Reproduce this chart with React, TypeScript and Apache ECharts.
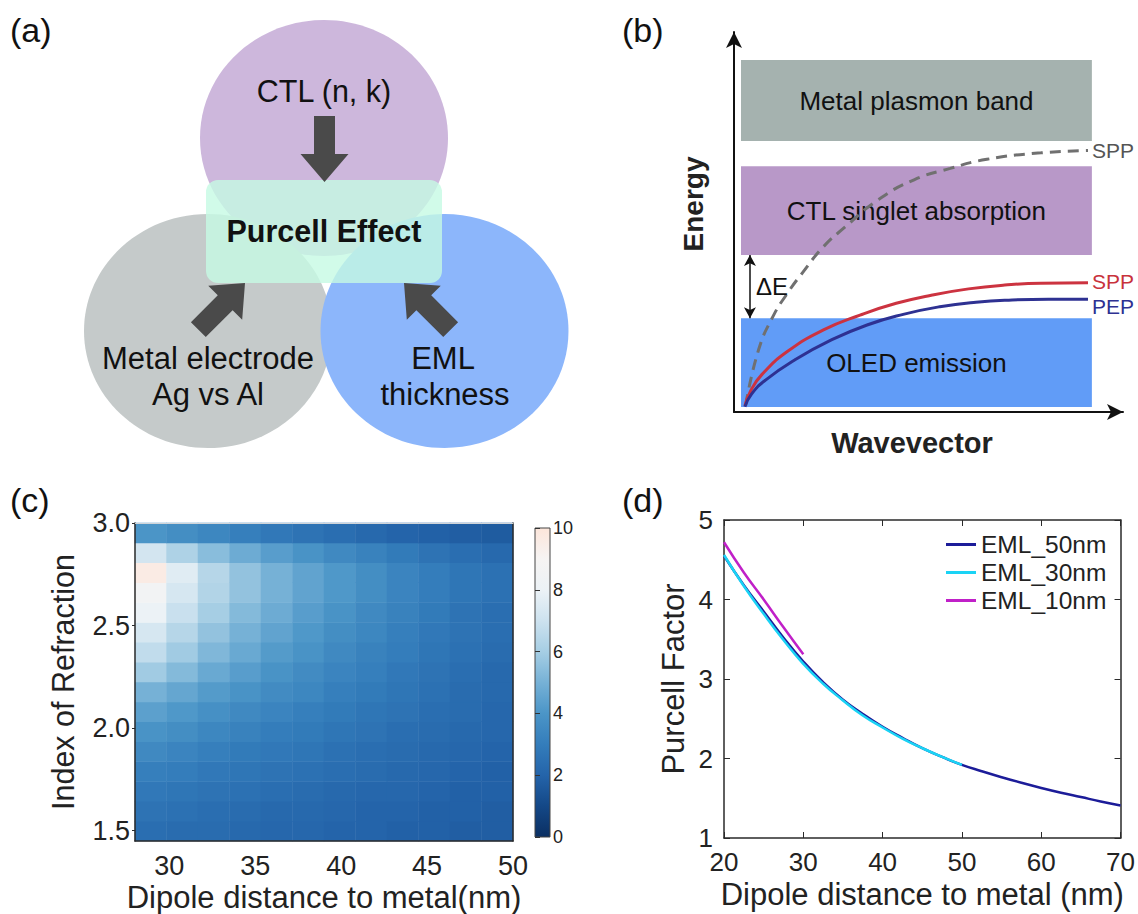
import React, { useEffect, useRef } from 'react';
import * as echarts from 'echarts';

// ---------- Panel (b): band diagram ----------
const bandNames = ['Metal plasmon band', 'CTL singlet absorption', 'OLED emission'];
const bandX = [1.8, 92.0];
const bandLow = [71.3, 41.3, 1.3];
const bandHigh = [92.6, 64.7, 24.7];
const bandColors = ['#a5b2af', '#b898c8', '#619cf7'];
const sppDashed = [[3.0, 1.8], [6.3, 16.3], [10.0, 25.1], [13.7, 31.2], [17.5, 36.5], [23.0, 43.5], [28.7, 48.8], [37.0, 55.8], [46.3, 61.1], [55.6, 64.1], [65.0, 66.5], [78.9, 68.2], [91.0, 68.8]];
const sppRed = [[2.8, 1.6], [4.3, 5.6], [7.2, 9.9], [13.7, 15.9], [23.0, 21.6], [32.4, 25.5], [41.7, 28.6], [51.0, 30.8], [60.3, 32.4], [69.6, 33.4], [78.9, 33.9], [91.0, 34.0]];
const pepBlue = [[2.8, 1.4], [4.5, 4.7], [8.1, 8.4], [15.6, 13.7], [24.9, 18.9], [34.2, 22.9], [43.5, 25.7], [52.9, 27.7], [62.2, 28.9], [71.5, 29.5], [80.8, 29.7], [91.0, 29.7]];
const deltaEX = 4.1;

// ---------- Panel (c): heatmap ----------
const heatX = ['28', '30', '32', '34', '36', '38', '40', '42', '44', '46', '48', '50'];
const heatY = ['1.5', '1.6', '1.7', '1.8', '1.9', '2.0', '2.1', '2.2', '2.3', '2.4', '2.5', '2.6', '2.7', '2.8', '2.9', '3.0'];
const heatValues = [
  [2.4, 2.3, 2.3, 2.2, 2.1, 2.1, 2.0, 2.0, 1.9, 1.9, 1.8, 1.8],
  [2.6, 2.5, 2.4, 2.3, 2.2, 2.2, 2.1, 2.0, 2.0, 1.9, 1.9, 1.8],
  [2.8, 2.7, 2.6, 2.5, 2.4, 2.3, 2.2, 2.1, 2.1, 2.0, 1.9, 1.9],
  [3.1, 3.0, 2.8, 2.7, 2.6, 2.5, 2.4, 2.3, 2.2, 2.1, 2.0, 1.9],
  [3.5, 3.3, 3.1, 2.9, 2.8, 2.7, 2.5, 2.4, 2.3, 2.2, 2.1, 2.0],
  [3.9, 3.7, 3.4, 3.2, 3.0, 2.9, 2.7, 2.6, 2.4, 2.3, 2.2, 2.1],
  [4.4, 4.1, 3.8, 3.5, 3.3, 3.1, 2.9, 2.7, 2.6, 2.4, 2.3, 2.1],
  [5.0, 4.6, 4.2, 3.9, 3.6, 3.4, 3.1, 2.9, 2.7, 2.5, 2.3, 2.2],
  [5.9, 5.3, 4.7, 4.3, 3.9, 3.6, 3.3, 3.1, 2.8, 2.6, 2.4, 2.2],
  [6.7, 5.9, 5.2, 4.7, 4.2, 3.9, 3.5, 3.2, 3.0, 2.7, 2.5, 2.3],
  [7.3, 6.4, 5.6, 5.0, 4.5, 4.1, 3.7, 3.4, 3.1, 2.8, 2.6, 2.4],
  [8.0, 6.9, 6.0, 5.3, 4.8, 4.3, 3.9, 3.5, 3.2, 2.9, 2.6, 2.4],
  [8.6, 7.3, 6.3, 5.6, 5.0, 4.5, 4.1, 3.7, 3.3, 3.0, 2.7, 2.5],
  [9.6, 7.6, 6.4, 5.6, 5.0, 4.5, 4.1, 3.7, 3.3, 3.0, 2.7, 2.5],
  [7.2, 6.2, 5.4, 4.8, 4.3, 3.9, 3.5, 3.2, 2.9, 2.6, 2.4, 2.2],
  [4.0, 3.7, 3.4, 3.1, 2.8, 2.6, 2.4, 2.2, 2.0, 1.9, 1.8, 1.7],
];
const heatXTicks = [30, 35, 40, 45, 50];
const heatYTicks = [1.5, 2.0, 2.5, 3.0];
const heatColors = ['#0b2f62', '#144887', '#2464aa', '#347dbb', '#4b95c7', '#76b1d6', '#a6cee4', '#cde2ef', '#ecf2f6', '#f6f4f3', '#fce5da'];

// ---------- Panel (d): Purcell factor ----------
const dNames = ['EML_50nm', 'EML_30nm', 'EML_10nm'];
const dColors = ['#1c1c99', '#1ad3f5', '#c020c8'];
const dX50 = [20, 22.5, 25, 27.5, 30, 32.5, 35, 37.5, 40, 42.5, 45, 47.5, 50, 52.5, 55, 57.5, 60, 62.5, 65, 67.5, 70];
const dY50 = [4.55, 4.18, 3.85, 3.52, 3.22, 2.96, 2.74, 2.56, 2.40, 2.26, 2.13, 2.02, 1.92, 1.84, 1.765, 1.695, 1.63, 1.57, 1.515, 1.46, 1.41];
const dX30 = [20, 22.5, 25, 27.5, 30, 32.5, 35, 37.5, 40, 42.5, 45, 47.5, 50];
const dY30 = [4.56, 4.17, 3.82, 3.49, 3.19, 2.94, 2.73, 2.54, 2.39, 2.25, 2.13, 2.02, 1.92];
const dX10 = [20, 22.5, 25, 27.5, 30];
const dY10 = [4.72, 4.34, 4.00, 3.65, 3.31];

const FONT = '"Liberation Sans", Arial, Helvetica, sans-serif';

function arrowPoints(len: number) {
  return [[0, 0], [24, 28], [10.5, 28], [10.5, len], [-10.5, len], [-10.5, 28], [-24, 28]];
}

export default function App() {
  const ref = useRef<HTMLDivElement>(null);
  useEffect(() => {
    document.body.style.margin = '0';
    if (!ref.current) return;
    const chart = echarts.init(ref.current, null, { renderer: 'svg' });

    const heatData: number[][] = [];
    heatValues.forEach((row, yi) => row.forEach((v, xi) => heatData.push([xi, yi, v])));
    const zip = (xs: number[], ys: number[]) => xs.map((x, i) => [x, ys[i]]);

    const txt = (text: string, x: number, y: number, size: number, extra: any = {}) => ({
      type: 'text', x, y, z: 20, ...extra,
      style: { text, fontSize: size, fontFamily: FONT, fill: '#111', align: 'center', verticalAlign: 'middle', ...(extra.style || {}) },
    });

    const hidden = { axisLine: { show: false }, axisTick: { show: false }, axisLabel: { show: false }, splitLine: { show: false } };
    const arrowAxis = {
      axisLine: { show: true, symbol: ['none', 'arrow'], symbolSize: [12, 16], lineStyle: { color: '#111', width: 2 } },
      axisTick: { show: false }, axisLabel: { show: false }, splitLine: { show: false },
    };
    const darkLine = { show: true, lineStyle: { color: '#2a2a2a', width: 1.5 } };

    const option: any = {
      animation: false,
      backgroundColor: '#ffffff',
      textStyle: { fontFamily: FONT },
      grid: [
        { left: 734, top: 32, width: 389, height: 380 },
        { left: 135, top: 523, width: 378, height: 318 },
        { left: 135, top: 523, width: 378, height: 318 },
        { left: 535, top: 528, width: 15, height: 309 },
        { left: 724, top: 520, width: 398, height: 318 },
      ],
      xAxis: [
        { gridIndex: 0, type: 'value', min: 0, max: 100, ...arrowAxis },
        { gridIndex: 1, type: 'category', data: heatX, ...hidden },
        {
          gridIndex: 2, type: 'value', min: 28, max: 50, position: 'bottom', z: 10,
          axisLine: darkLine, axisTick: { show: false },
          axisLabel: { customValues: heatXTicks, fontSize: 27, color: '#222', margin: 11 },
          splitLine: { show: false },
          name: 'Dipole distance to metal(nm)', nameLocation: 'middle', nameGap: 41,
          nameTextStyle: { fontSize: 31, color: '#222' },
        },
        { gridIndex: 2, type: 'value', min: 28, max: 50, position: 'top', z: 10, ...hidden, axisLine: { show: true, lineStyle: { color: '#d0d4d8', width: 1 } } },
        { gridIndex: 3, type: 'value', min: 0, max: 1, ...hidden },
        {
          gridIndex: 4, type: 'value', min: 20, max: 70, interval: 10, position: 'bottom',
          axisLine: darkLine, axisTick: { show: true, inside: true, length: 6, lineStyle: { color: '#2a2a2a' } },
          axisLabel: { fontSize: 26, color: '#222', margin: 11 }, splitLine: { show: false },
          name: 'Dipole distance to metal (nm)', nameLocation: 'middle', nameGap: 41,
          nameTextStyle: { fontSize: 31, color: '#222' },
        },
        {
          gridIndex: 4, type: 'value', min: 20, max: 70, interval: 10, position: 'top',
          axisLine: darkLine, axisTick: { show: true, inside: true, length: 6, lineStyle: { color: '#2a2a2a' } },
          axisLabel: { show: false }, splitLine: { show: false },
        },
      ],
      yAxis: [
        { gridIndex: 0, type: 'value', min: 0, max: 100, ...arrowAxis },
        { gridIndex: 1, type: 'category', data: heatY, ...hidden },
        {
          gridIndex: 2, type: 'value', min: 1.45, max: 3.0, position: 'left', z: 10,
          axisLine: darkLine, axisTick: { show: true, customValues: heatYTicks, length: 3, lineStyle: { color: '#2a2a2a' } },
          axisLabel: { customValues: heatYTicks, fontSize: 27, color: '#222', margin: 5, formatter: (v: number) => v.toFixed(1) },
          splitLine: { show: false },
          name: 'Index of Refraction', nameLocation: 'middle', nameGap: 57,
          nameTextStyle: { fontSize: 30.5, color: '#222' },
        },
        { gridIndex: 2, type: 'value', min: 1.45, max: 3.0, position: 'right', z: 10, ...hidden, axisLine: darkLine },
        {
          gridIndex: 3, type: 'value', min: 0, max: 10, interval: 2, position: 'right', z: 10,
          axisLine: { show: false }, axisTick: { show: true, length: 5, lineStyle: { color: '#333' } },
          axisLabel: { fontSize: 18, color: '#222', margin: 3 }, splitLine: { show: false },
        },
        {
          gridIndex: 4, type: 'value', min: 1, max: 5, interval: 1, position: 'left',
          axisLine: darkLine, axisTick: { show: true, inside: true, length: 6, lineStyle: { color: '#2a2a2a' } },
          axisLabel: { fontSize: 26, color: '#222', margin: 11 }, splitLine: { show: false },
          name: 'Purcell Factor', nameLocation: 'middle', nameGap: 35,
          nameTextStyle: { fontSize: 31, color: '#222' },
        },
        {
          gridIndex: 4, type: 'value', min: 1, max: 5, interval: 1, position: 'right',
          axisLine: darkLine, axisTick: { show: true, inside: true, length: 6, lineStyle: { color: '#2a2a2a' } },
          axisLabel: { show: false }, splitLine: { show: false },
        },
      ],
      visualMap: {
        type: 'continuous', min: 0, max: 10, show: false, seriesIndex: 4,
        inRange: { color: heatColors },
      },
      legend: {
        data: dNames, orient: 'vertical', left: 941, top: 527,
        itemWidth: 30, itemHeight: 3, icon: 'rect', itemGap: 3, selectedMode: false,
        textStyle: { fontSize: 24.5, color: '#222', fontFamily: FONT },
      },
      series: [
        {
          type: 'line', xAxisIndex: 0, yAxisIndex: 0, data: [], silent: true,
          markArea: {
            silent: true,
            data: bandNames.map((n, i) => [
              {
                name: n, xAxis: bandX[0], yAxis: bandLow[i], itemStyle: { color: bandColors[i], opacity: 1 },
                label: { show: true, position: 'inside', color: '#111', fontSize: 26, fontFamily: FONT },
              },
              { xAxis: bandX[1], yAxis: bandHigh[i] },
            ]),
          },
          markLine: {
            silent: true, symbol: ['arrow', 'arrow'], symbolSize: [9, 11],
            lineStyle: { color: '#111', width: 1.5, type: 'solid' }, label: { show: false },
            data: [[{ coord: [deltaEX, bandLow[1]] }, { coord: [deltaEX, bandHigh[2]] }]],
          },
        },
        {
          type: 'line', name: 'SPP_d', xAxisIndex: 0, yAxisIndex: 0, data: sppDashed, smooth: true, showSymbol: false,
          lineStyle: { color: '#707070', width: 3, type: [11, 7] },
          endLabel: { show: true, formatter: 'SPP', color: '#555', fontSize: 21, distance: 4 },
        },
        {
          type: 'line', name: 'SPP_r', xAxisIndex: 0, yAxisIndex: 0, data: sppRed, smooth: true, showSymbol: false,
          lineStyle: { color: '#cc3340', width: 3 },
          endLabel: { show: true, formatter: 'SPP', color: '#c8323c', fontSize: 21, distance: 4, offset: [0, -1] },
        },
        {
          type: 'line', name: 'PEP', xAxisIndex: 0, yAxisIndex: 0, data: pepBlue, smooth: true, showSymbol: false,
          lineStyle: { color: '#2e3192', width: 3 },
          endLabel: { show: true, formatter: 'PEP', color: '#2e3192', fontSize: 21, distance: 4, offset: [0, 7] },
        },
        {
          type: 'heatmap', xAxisIndex: 1, yAxisIndex: 1, data: heatData, z: 1,
          itemStyle: { borderWidth: 0 }, emphasis: { disabled: true },
        },
        { type: 'scatter', xAxisIndex: 2, yAxisIndex: 2, data: [] },
        { type: 'scatter', xAxisIndex: 4, yAxisIndex: 4, data: [] },
        {
          type: 'line', name: dNames[0], xAxisIndex: 5, yAxisIndex: 5, data: zip(dX50, dY50), smooth: true,
          showSymbol: false, color: dColors[0], lineStyle: { color: dColors[0], width: 2.5 },
        },
        {
          type: 'line', name: dNames[1], xAxisIndex: 5, yAxisIndex: 5, data: zip(dX30, dY30), smooth: true,
          showSymbol: false, color: dColors[1], lineStyle: { color: dColors[1], width: 2.5 },
        },
        {
          type: 'line', name: dNames[2], xAxisIndex: 5, yAxisIndex: 5, data: zip(dX10, dY10), smooth: true,
          showSymbol: false, color: dColors[2], lineStyle: { color: dColors[2], width: 2.5 },
        },
      ],
      graphic: [
        // panel labels
        txt('(a)', 10, 30, 34, { style: { align: 'left', fill: '#111' } }),
        txt('(b)', 622, 30, 34, { style: { align: 'left', fill: '#111' } }),
        txt('(c)', 10, 500, 34, { style: { align: 'left', fill: '#111' } }),
        txt('(d)', 622, 500, 34, { style: { align: 'left', fill: '#111' } }),
        // panel (a) venn
        { type: 'ellipse', z: 1, shape: { cx: 324, cy: 138, rx: 124, ry: 118 }, style: { fill: '#cdb7dc' } },
        { type: 'ellipse', z: 2, shape: { cx: 208, cy: 331, rx: 124, ry: 117 }, style: { fill: '#c5caca' } },
        { type: 'ellipse', z: 3, shape: { cx: 444.5, cy: 331, rx: 124, ry: 117 }, style: { fill: '#8cb6fb' } },
        { type: 'rect', z: 4, shape: { x: 206, y: 180, width: 236, height: 103, r: 12 }, style: { fill: 'rgba(197,250,227,0.8)' } },
        { type: 'polygon', z: 5, x: 324.5, y: 182, rotation: Math.PI, shape: { points: arrowPoints(66) }, style: { fill: '#4a4a4a' } },
        { type: 'polygon', z: 5, x: 245, y: 283, rotation: -Math.PI / 4, shape: { points: arrowPoints(66) }, style: { fill: '#4a4a4a' } },
        { type: 'polygon', z: 5, x: 404, y: 283, rotation: Math.PI / 4, shape: { points: arrowPoints(66) }, style: { fill: '#4a4a4a' } },
        txt('CTL (n, k)', 324, 91, 30.5),
        txt('Purcell Effect', 324, 231, 30.5, { style: { fontWeight: 'bold' } }),
        txt('Metal electrode', 208, 358, 31),
        txt('Ag vs Al', 208, 394, 31),
        txt('EML', 443, 358, 31),
        txt('thickness', 445, 394, 31),
        // panel (b) labels
        txt('Energy', 693, 204, 28, { rotation: Math.PI / 2, style: { fontWeight: 'bold', fill: '#222' } }),
        txt('Wavevector', 912, 443, 29, { style: { fontWeight: 'bold', fill: '#222' } }),
        txt('ΔE', 756, 286, 24, { style: { align: 'left', fill: '#111' } }),
        // colorbar
        {
          type: 'rect', z: 5, shape: { x: 535, y: 528, width: 15, height: 309 },
          style: {
            fill: new echarts.graphic.LinearGradient(0, 1, 0, 0, heatColors.map((c, i) => ({ offset: i / (heatColors.length - 1), color: c }))),
            stroke: '#444', lineWidth: 1,
          },
        },
      ],
    };
    chart.setOption(option);
    return () => chart.dispose();
  }, []);
  return <div ref={ref} style={{ width: 1138, height: 914 }} />;
}
